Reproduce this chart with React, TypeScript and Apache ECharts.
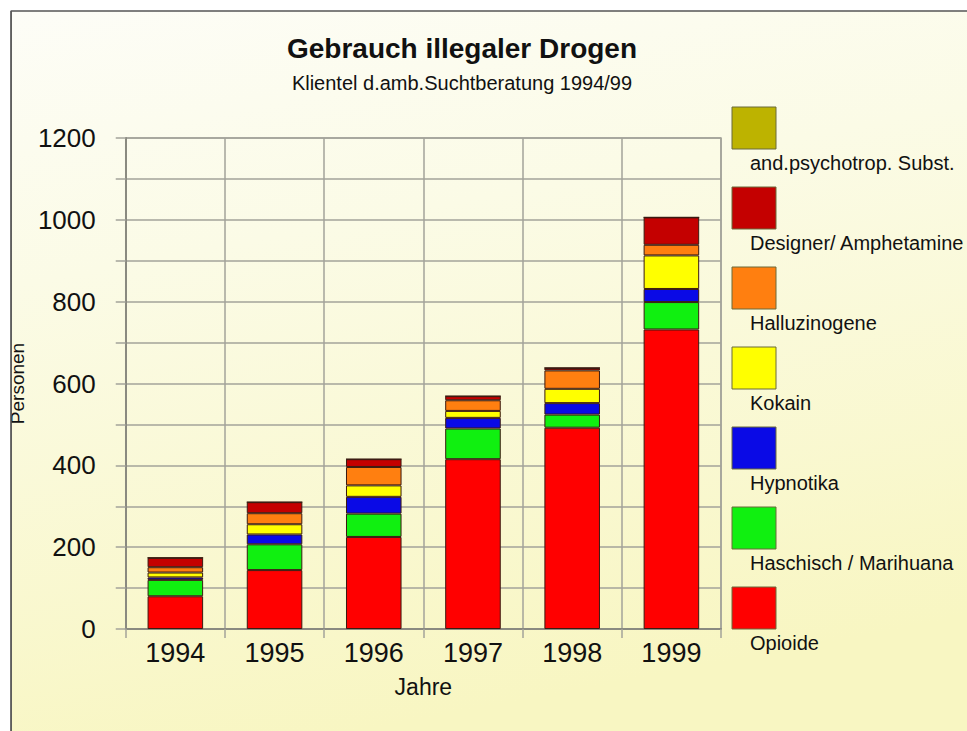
import React, { useEffect, useRef } from "react";
import * as echarts from "echarts";

const years = ["1994", "1995", "1996", "1997", "1998", "1999"];
const seriesNames = [
  "Opioide",
  "Haschisch / Marihuana",
  "Hypnotika",
  "Kokain",
  "Halluzinogene",
  "Designer/ Amphetamine",
  "and.psychotrop. Subst.",
];
const seriesColors = ["#ff0000", "#10f010", "#0a0ae6", "#ffff00", "#ff7f10", "#c40000", "#bdb300"];
const opioide = [80, 144, 225, 415, 492, 732];
const haschisch = [40, 63, 57, 75, 32, 67];
const hypnotika = [6, 24, 41, 26, 28, 32];
const kokain = [12, 25, 28, 17, 35, 82];
const halluzinogene = [13, 27, 45, 26, 45, 26];
const designer = [23, 27, 19, 10, 6, 67];
const andere = [0, 0, 0, 0, 0, 0];
const seriesValues = [opioide, haschisch, hypnotika, kokain, halluzinogene, designer, andere];
const yTicks = [0, 200, 400, 600, 800, 1000, 1200];

const FONT = "'Liberation Sans', Arial, sans-serif";

export default function App() {
  const ref = useRef<HTMLDivElement>(null);
  useEffect(() => {
    if (!ref.current) return;
    const chart = echarts.init(ref.current, null, { renderer: "svg" });
    const gray = "#a3a39a";
    const legendGraphics: any[] = [];
    // legend: top item is last series
    for (let i = 0; i < seriesNames.length; i++) {
      const idx = seriesNames.length - 1 - i;
      const top = 107 + i * 80;
      legendGraphics.push({
        type: "rect",
        shape: { x: 732, y: top, width: 44, height: 42 },
        style: { fill: seriesColors[idx], stroke: "#6b6b3a", lineWidth: 1 },
      });
      legendGraphics.push({
        type: "text",
        x: 750,
        y: top + 56,
        style: {
          text: seriesNames[idx],
          fill: "#111",
          font: `20px ${FONT}`,
          verticalAlign: "middle",
          align: "left",
        },
      });
    }
    const option: any = {
      animation: false,
      backgroundColor: "#ffffff",
      title: {
        text: "Gebrauch illegaler Drogen",
        subtext: "Klientel d.amb.Suchtberatung 1994/99",
        left: 457,
        textAlign: "center",
        top: 29,
        itemGap: 11,
        textStyle: { fontFamily: FONT, fontSize: 28, fontWeight: "bold", color: "#111" },
        subtextStyle: { fontFamily: FONT, fontSize: 20, color: "#111" },
      },
      graphic: [
        {
          type: "rect",
          z: -100,
          silent: true,
          shape: { x: 11, y: 11, width: 980, height: 740 },
          style: {
            fill: new echarts.graphic.LinearGradient(0, 0, 0.25, 1, [
              { offset: 0, color: "#fdfdf7" },
              { offset: 0.35, color: "#fbfbe6" },
              { offset: 1, color: "#f8f6c2" },
            ]),
            stroke: "#555",
            lineWidth: 1.5,
          },
        },
        {
          type: "rect",
          z: 100,
          silent: true,
          shape: { x: 0, y: 0, width: 10.5, height: 731 },
          style: { fill: "#ffffff" },
        },
        {
          type: "line",
          z: 101,
          silent: true,
          shape: { x1: 11, y1: 11, x2: 11, y2: 731 },
          style: { stroke: "#555", lineWidth: 1.5 },
        },
        ...legendGraphics,
      ],
      grid: { left: 121, right: 246, top: 138, bottom: 102, show: true, borderColor: gray, borderWidth: 1.5 },
      xAxis: {
        type: "category",
        data: years,
        name: "Jahre",
        nameLocation: "middle",
        nameGap: 46,
        nameTextStyle: { fontFamily: FONT, fontSize: 23, color: "#111" },
        axisLine: { lineStyle: { color: "#8a8a80", width: 2 } },
        axisTick: { show: true, length: 9, lineStyle: { color: gray, width: 1.5 } },
        axisLabel: { fontFamily: FONT, fontSize: 27, color: "#111", margin: 10 },
        splitLine: { show: true, lineStyle: { color: gray, width: 1.5 } },
      },
      yAxis: {
        type: "value",
        min: 0,
        max: 1200,
        interval: 100,
        name: "Personen",
        nameLocation: "middle",
        nameGap: 97,
        nameRotate: 90,
        nameTextStyle: { fontFamily: FONT, fontSize: 19, color: "#111" },
        axisLine: { show: true, lineStyle: { color: "#8a8a80", width: 2 } },
        axisTick: { show: true, length: 10, lineStyle: { color: gray, width: 1.5 } },
        axisLabel: {
          fontFamily: FONT,
          fontSize: 26,
          color: "#111",
          margin: 30,
          formatter: (v: number) => (yTicks.includes(v) ? String(v) : ""),
        },
        splitLine: { show: true, lineStyle: { color: gray, width: 1.5 } },
      },
      series: seriesNames.map((name, i) => ({
        name,
        type: "bar",
        stack: "total",
        barWidth: "56%",
        data: seriesValues[i],
        itemStyle: { color: seriesColors[i], borderColor: "#3a1a10", borderWidth: 1 },
      })),
    };
    chart.setOption(option);
    return () => chart.dispose();
  }, []);
  return (
    <div
      ref={ref}
      style={{ position: "absolute", left: 0, top: 0, width: 967, height: 731 }}
    />
  );
}
